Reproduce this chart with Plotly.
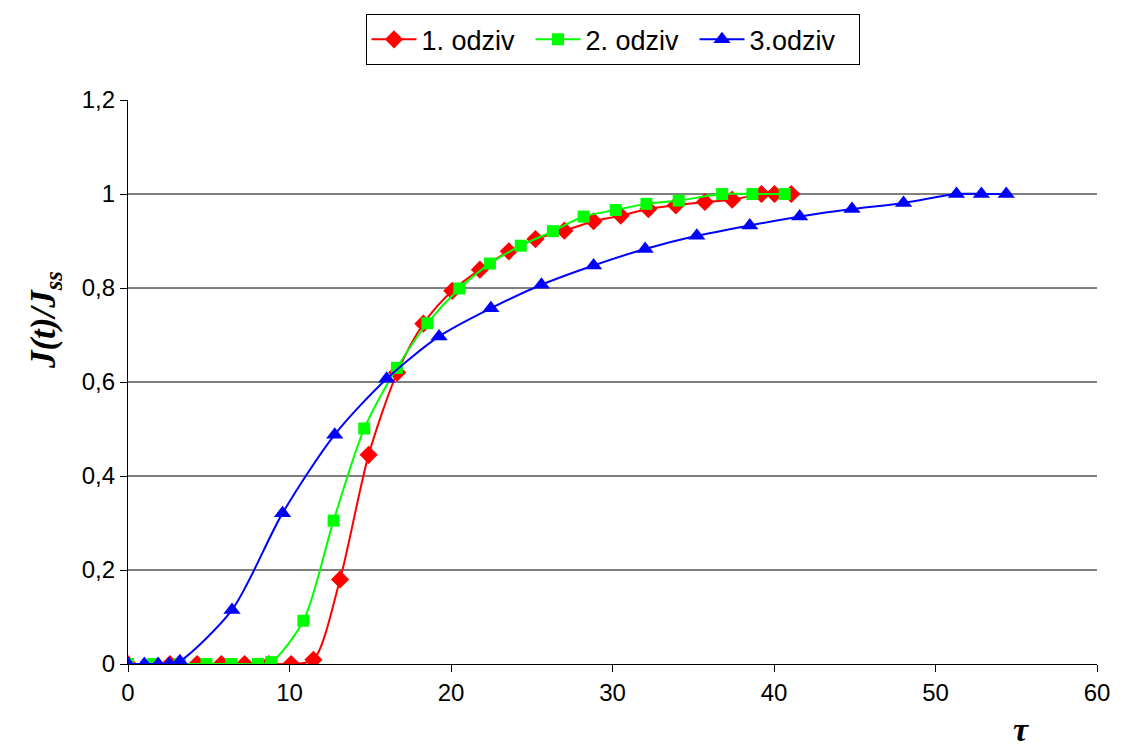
import plotly.graph_objects as go

# Response curves J(t)/J_ss versus dimensionless time tau
tau_1 = [0.0, 2.6, 4.28, 5.78, 7.22, 8.72, 10.10, 11.48, 13.13, 14.90, 16.67, 18.29,
         20.08, 21.79, 23.58, 25.23, 27.02, 28.83, 30.51, 32.22, 33.92, 35.72,
         37.41, 39.22, 40.03, 41.07]
resp_1 = [0.0, 0.0, 0.0, 0.0, 0.0, 0.0, 0.0, 0.009, 0.180, 0.445, 0.620, 0.724,
          0.794, 0.839, 0.878, 0.904, 0.922, 0.942, 0.954, 0.968, 0.976, 0.983,
          0.988, 1.0, 1.0, 1.0]

tau_2 = [0.0, 1.56, 3.21, 4.86, 6.40, 8.04, 8.87, 10.86, 12.73, 14.63, 16.65, 18.54,
         20.52, 22.41, 24.32, 26.31, 28.21, 30.20, 32.10, 34.10, 36.79, 38.66, 40.66]
resp_2 = [0.0, 0.0, 0.0, 0.0, 0.0, 0.0, 0.004, 0.092, 0.305, 0.501, 0.630, 0.725,
          0.799, 0.852, 0.890, 0.921, 0.952, 0.966, 0.979, 0.986, 1.0, 1.0, 1.0]

tau_3 = [0.0, 1.01, 1.87, 2.55, 3.21, 6.44, 9.57, 12.80, 16.02, 19.26, 22.47, 25.60,
         28.83, 32.02, 35.22, 38.50, 41.59, 44.83, 48.02, 51.30, 52.84, 54.38]
resp_3 = [0.0, 0.0, 0.0, 0.0, 0.006, 0.115, 0.321, 0.488, 0.607, 0.697, 0.757, 0.807,
          0.848, 0.883, 0.911, 0.933, 0.952, 0.968, 0.981, 1.0, 1.0, 1.0]

series_names = ["1. odziv", "2. odziv", "3.odziv"]

x_ticks = [0, 10, 20, 30, 40, 50, 60]
y_ticks = [0, 0.2, 0.4, 0.6, 0.8, 1.0, 1.2]
y_tick_labels = ["0", "0,2", "0,4", "0,6", "0,8", "1", "1,2"]
grid_levels = [0.2, 0.4, 0.6, 0.8, 1.0]

styles = [
    dict(color="#FF0000", symbol="diamond", size=14),
    dict(color="#00FF00", symbol="square", size=12),
    dict(color="#0000FF", symbol="triangle-up", size=15),
]

fig = go.Figure()
for xs, ys, name, st in zip([tau_1, tau_2, tau_3], [resp_1, resp_2, resp_3],
                            series_names, styles):
    fig.add_trace(go.Scatter(
        x=xs, y=ys, name=name, mode="lines+markers",
        line=dict(color=st["color"], width=2, shape="spline", smoothing=0.8),
        marker=dict(color=st["color"], symbol=st["symbol"], size=st["size"],
                    line=dict(width=0)),
    ))

# horizontal gridlines
for g in grid_levels:
    fig.add_shape(type="line", xref="paper", yref="y", x0=0, x1=1, y0=g, y1=g,
                  line=dict(color="black", width=1), layer="below")

fig.update_layout(
    width=1122, height=751,
    margin=dict(l=128, r=22, t=100, b=87),
    paper_bgcolor="white", plot_bgcolor="white",
    font=dict(family="Liberation Sans, Arial, sans-serif", color="black", size=22),
    showlegend=True,
    legend=dict(
        orientation="h", x=0.5, xanchor="center", y=1.152, yanchor="top",
        bordercolor="black", borderwidth=1, bgcolor="white",
        font=dict(size=27, family="Liberation Sans, Arial, sans-serif"),
        itemwidth=45, tracegroupgap=0, entrywidth=104, entrywidthmode="pixels",
    ),
    xaxis=dict(
        range=[0, 60], tickvals=x_ticks, ticks="outside", ticklen=7, tickwidth=1.2,
        tickcolor="black", showline=True, linecolor="black", linewidth=1.2,
        showgrid=False, zeroline=False, tickfont=dict(size=24),
    ),
    yaxis=dict(
        range=[0, 1.2], tickvals=y_ticks, ticktext=y_tick_labels, ticks="outside",
        ticklen=7, tickwidth=1.2, tickcolor="black", showline=True,
        linecolor="black", linewidth=1.2, showgrid=False, zeroline=False,
        tickfont=dict(size=24),
    ),
    annotations=[
        dict(text="<b><i>J(t)/J<sub>ss</sub></i></b>", xref="paper", yref="paper",
             x=-0.11, y=0.70, textangle=-90, showarrow=False,
             font=dict(family="Liberation Serif, Times New Roman, serif", size=35)),
        dict(text="<b><i>τ</i></b>", xref="paper", yref="paper",
             x=0.932, y=-0.152, showarrow=False,
             font=dict(family="Liberation Serif, Times New Roman, serif", size=34)),
    ],
)

fig.write_html("out.html")
